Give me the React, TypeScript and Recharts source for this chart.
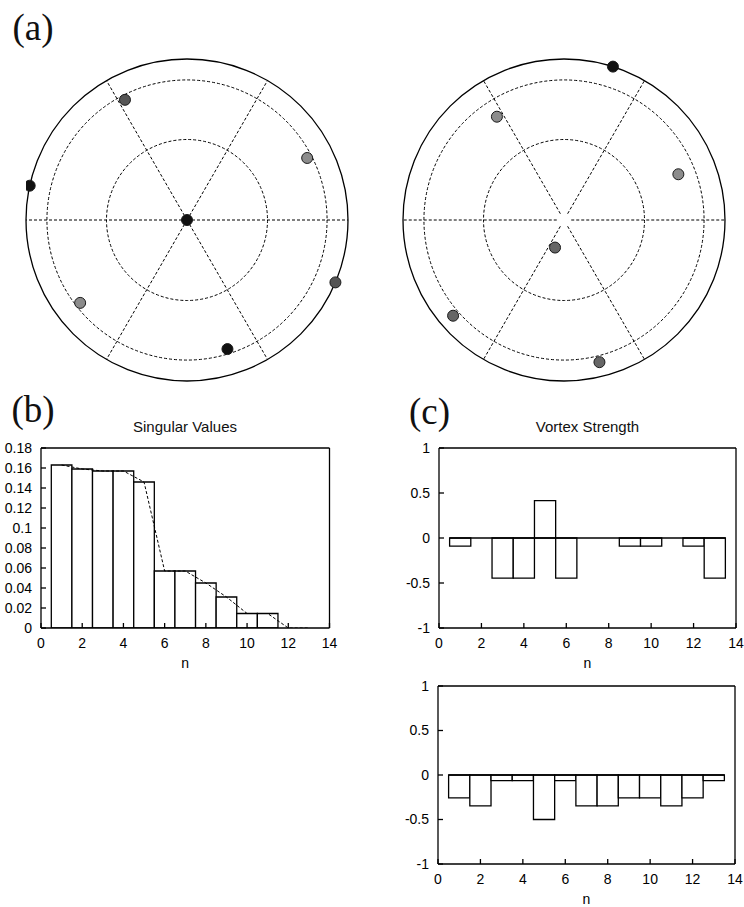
import {
  ScatterChart,
  Scatter,
  ComposedChart,
  Bar,
  Line,
  XAxis,
  YAxis,
  ReferenceDot,
  ReferenceLine,
} from "recharts";

const SANS = '"Liberation Sans", Arial, Helvetica, sans-serif';
const SERIF = '"Liberation Serif", "Times New Roman", serif';

// (a) vortex positions: r relative to the boundary circle, angle in degrees (ccw from +x)
const leftBlack = [
  { r: 0, deg: 0 },
  { r: 1, deg: 167.7 },
  { r: 0.84, deg: -72.6 },
];
const leftDark = [
  { r: 0.84, deg: 117.3 },
  { r: 1, deg: -22.8 },
];
const leftLight = [
  { r: 0.84, deg: 27.3 },
  { r: 0.84, deg: -142.2 },
];
const rightBlack = [{ r: 1, deg: 72.3 }];
const rightLight = [
  { r: 0.765, deg: 123 },
  { r: 0.765, deg: 21.8 },
];
const rightMid = [
  { r: 0.18, deg: -108 },
  { r: 0.91, deg: -139.2 },
  { r: 0.91, deg: -76 },
];
const ringRadii = [0.5, 0.87];
const spokeAngles = [0, 60, 120, 180, 240, 300];

// (b), (c) mode index and values
const modes = [1, 2, 3, 4, 5, 6, 7, 8, 9, 10, 11, 12, 13];
const singularValues = [0.163, 0.159, 0.157, 0.157, 0.146, 0.057, 0.057, 0.045, 0.031, 0.0145, 0.0145, 0, 0];
const strengthTop = [-0.09, 0, -0.445, -0.445, 0.415, -0.445, 0, 0, -0.09, -0.09, 0, -0.09, -0.445];
const strengthBottom = [-0.258, -0.347, -0.064, -0.064, -0.5, -0.064, -0.347, -0.347, -0.258, -0.258, -0.347, -0.258, -0.064];
const nTicks = [0, 2, 4, 6, 8, 10, 12, 14];
const svTicks = [0, 0.02, 0.04, 0.06, 0.08, 0.1, 0.12, 0.14, 0.16, 0.18];
const vsTicks = [-1, -0.5, 0, 0.5, 1];

const RAD = Math.PI / 180;
const R = 161; // boundary circle radius in px

type PolarPt = { r: number; deg: number };
const toXY = (pts: PolarPt[]) =>
  pts.map((p) => ({ x: p.r * Math.cos(p.deg * RAD), y: p.r * Math.sin(p.deg * RAD) }));

type Group = { name: string; points: PolarPt[]; fill: string };

function PolarPanel({ left, top, groups, spokeStart }: { left: number; top: number; groups: Group[]; spokeStart: number }) {
  return (
    <div style={{ position: "absolute", left, top }}>
      <ScatterChart width={2 * R + 20} height={2 * R + 20} margin={{ top: 10, right: 10, bottom: 10, left: 10 }}>
        <XAxis type="number" dataKey="x" domain={[-1, 1]} hide allowDataOverflow />
        <YAxis type="number" dataKey="y" domain={[-1, 1]} hide allowDataOverflow />
        <ReferenceDot x={0} y={0} r={R} fill="none" stroke="#000" strokeWidth={1.3} ifOverflow="visible" />
        {ringRadii.map((rr) => (
          <ReferenceDot
            key={rr}
            x={0}
            y={0}
            r={rr * R}
            fill="none"
            stroke="#000"
            strokeWidth={1}
            strokeDasharray="3 2"
            ifOverflow="visible"
          />
        ))}
        {spokeAngles.map((a) => {
          const c = Math.cos(a * RAD);
          const s = Math.sin(a * RAD);
          return (
            <ReferenceLine
              key={a}
              segment={[
                { x: spokeStart * c, y: spokeStart * s },
                { x: c, y: s },
              ]}
              stroke="#000"
              strokeWidth={1}
              strokeDasharray="3 2"
              ifOverflow="visible"
            />
          );
        })}
        {groups.map((g) => (
          <Scatter
            key={g.name}
            name={g.name}
            data={toXY(g.points)}
            fill={g.fill}
            isAnimationActive={false}
            shape={(p: any) => <circle cx={p.cx} cy={p.cy} r={5.5} fill={g.fill} stroke="#1a1a1a" strokeWidth={1} />}
          />
        ))}
      </ScatterChart>
    </div>
  );
}

const AXIS = { stroke: "#000", strokeWidth: 1.3 };
const TICK_TEXT = { fill: "#000", fontSize: 14 };

type BarPanelProps = {
  left: number;
  top: number;
  plotW: number;
  plotH: number;
  yAxisW: number;
  values: number[];
  yDomain: [number, number];
  yTicks: number[];
  trend?: boolean;
  zeroLine?: boolean;
};

function BarPanel({ left, top, plotW, plotH, yAxisW, values, yDomain, yTicks, trend, zeroLine }: BarPanelProps) {
  const rows = modes.map((n, i) => ({ n, v: values[i] }));
  const xDomain: [number, number] = [nTicks[0], nTicks[nTicks.length - 1]];
  // one mode per unit on the x axis, bars touch each other
  const unit = plotW / (xDomain[1] - xDomain[0]);
  return (
    <div style={{ position: "absolute", left, top, fontFamily: SANS }}>
      <ComposedChart
        width={yAxisW + plotW + 10}
        height={plotH + 60}
        data={rows}
        margin={{ top: 9, right: 9, bottom: 20, left: 0 }}
      >
        <XAxis
          xAxisId="b"
          type="number"
          dataKey="n"
          domain={xDomain}
          ticks={nTicks}
          interval={0}
          allowDataOverflow
          height={30}
          axisLine={AXIS}
          tickLine={AXIS}
          tickSize={-5}
          tickMargin={15}
          tick={TICK_TEXT}
          label={{ value: "n", position: "bottom", offset: 0, fill: "#000", fontSize: 14 }}
        />
        {/* top and right axes only close the frame and carry inward ticks */}
        <XAxis
          xAxisId="t"
          orientation="top"
          type="number"
          dataKey="n"
          domain={xDomain}
          ticks={nTicks}
          interval={0}
          allowDataOverflow
          height={1}
          axisLine={AXIS}
          tickLine={AXIS}
          tickSize={-5}
          tick={false}
        />
        <YAxis
          yAxisId="l"
          type="number"
          domain={yDomain}
          ticks={yTicks}
          interval={0}
          allowDataOverflow
          width={yAxisW}
          axisLine={AXIS}
          tickLine={AXIS}
          tickSize={-5}
          tickMargin={14}
          tick={TICK_TEXT}
        />
        <YAxis
          yAxisId="r"
          orientation="right"
          type="number"
          domain={yDomain}
          ticks={yTicks}
          interval={0}
          allowDataOverflow
          width={1}
          axisLine={AXIS}
          tickLine={AXIS}
          tickSize={-5}
          tick={false}
        />
        <Bar
          xAxisId="b"
          yAxisId="l"
          dataKey="v"
          barSize={unit * 0.999}
          fill="#fff"
          stroke="#000"
          strokeWidth={1.3}
          isAnimationActive={false}
        />
        {zeroLine && (
          <ReferenceLine
            xAxisId="b"
            yAxisId="l"
            segment={[
              { x: modes[0] - 0.5, y: 0 },
              { x: modes[modes.length - 1] + 0.5, y: 0 },
            ]}
            stroke="#000"
            strokeWidth={1.4}
          />
        )}
        {trend && (
          <Line
            xAxisId="b"
            yAxisId="l"
            dataKey="v"
            type="linear"
            stroke="#000"
            strokeWidth={1}
            strokeDasharray="3 2"
            dot={false}
            activeDot={false}
            isAnimationActive={false}
          />
        )}
      </ComposedChart>
    </div>
  );
}

export default function App() {
  return (
    <div
      style={{
        position: "absolute",
        left: 0,
        top: 0,
        width: 744,
        height: 907,
        overflow: "hidden",
        background: "#fff",
      }}
    >
      <svg width={744} height={907} style={{ position: "absolute", left: 0, top: 0 }}>
        <text x={12.5} y={40} fontFamily={SERIF} fontSize={37} fill="#111">(a)</text>
        <text x={11.5} y={422} fontFamily={SERIF} fontSize={37} fill="#111">(b)</text>
        <text x={409} y={424} fontFamily={SERIF} fontSize={37} fill="#111">(c)</text>
        <text x={185} y={432} textAnchor="middle" fontFamily={SANS} fontSize={15} fill="#111">
          Singular Values
        </text>
        <text x={587.5} y={432} textAnchor="middle" fontFamily={SANS} fontSize={15} fill="#111">
          Vortex Strength
        </text>
      </svg>

      <PolarPanel
        left={15.5}
        top={49}
        spokeStart={0}
        groups={[
          { name: "light", points: leftLight, fill: "#8c8c8c" },
          { name: "dark", points: leftDark, fill: "#555" },
          { name: "black", points: leftBlack, fill: "#111" },
        ]}
      />
      <PolarPanel
        left={393.2}
        top={49}
        spokeStart={0.045}
        groups={[
          { name: "light", points: rightLight, fill: "#8c8c8c" },
          { name: "mid", points: rightMid, fill: "#666" },
          { name: "black", points: rightBlack, fill: "#111" },
        ]}
      />

      <BarPanel
        left={0}
        top={438}
        plotW={288.5}
        plotH={180}
        yAxisW={41}
        values={singularValues}
        yDomain={[0, 0.18]}
        yTicks={svTicks}
        trend
      />
      <BarPanel
        left={392}
        top={438}
        plotW={297}
        plotH={180}
        yAxisW={47}
        values={strengthTop}
        yDomain={[-1, 1]}
        yTicks={vsTicks}
        zeroLine
      />
      <BarPanel
        left={391}
        top={676}
        plotW={297}
        plotH={178}
        yAxisW={47}
        values={strengthBottom}
        yDomain={[-1, 1]}
        yTicks={vsTicks}
        zeroLine
      />
    </div>
  );
}
